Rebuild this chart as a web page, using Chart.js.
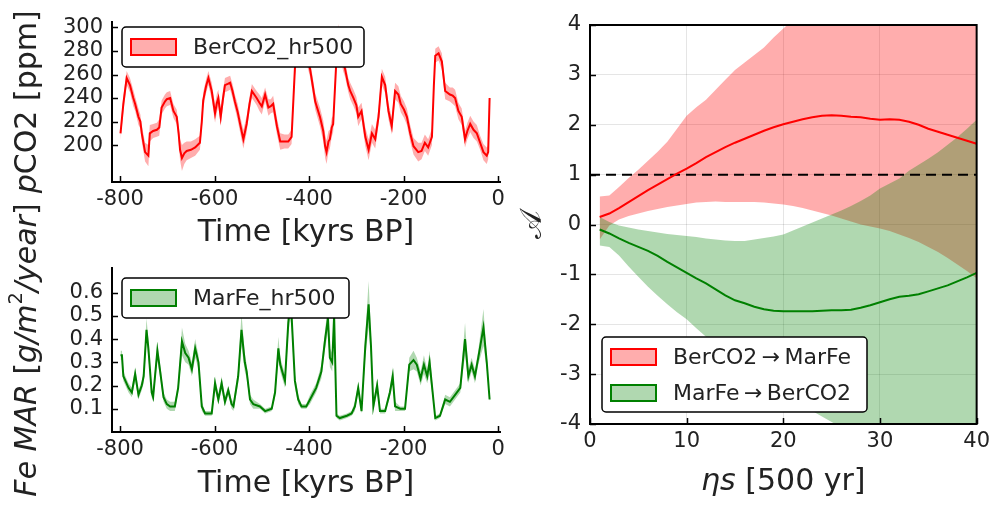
<!DOCTYPE html>
<html>
<head>
<meta charset="utf-8">
<script src="https://cdn.jsdelivr.net/npm/chart.js@4.4.1/dist/chart.umd.min.js"></script>
<style>
  html, body { margin: 0; padding: 0; background: #fff; }
  #wrap { position: relative; width: 995px; height: 506px; overflow: hidden; }
  canvas { position: absolute; }
  #c1 { left: 0; top: 0; }
  #c2 { left: 0; top: 170px; }
  #c3 { left: 510px; top: 0; }
</style>
</head>
<body>
<div id="wrap">
  <canvas id="c1" width="510" height="250"></canvas>
  <canvas id="c2" width="510" height="336"></canvas>
  <canvas id="c3" width="485" height="506"></canvas>
</div>
<script>
// ---- data ----
const TIME_TICKS = [-800, -600, -400, -200, 0];
const CO2_TICKS = [200, 220, 240, 260, 280, 300];
const FE_TICKS = [0.1, 0.2, 0.3, 0.4, 0.5, 0.6];
const ETA_TICKS = [0, 10, 20, 30, 40];
const A_TICKS = [-4, -3, -2, -1, 0, 1, 2, 3, 4];

// BerCO2_hr500 (kyrs BP, ppm, band half width)
const CO2_T = [
  -799, -793, -786, -779, -772, -768, -761, -757, -754, -747,
  -740, -737, -730, -722, -717, -712, -705, -701, -694, -687,
  -680, -676, -673, -669, -664, -659, -650, -641, -631, -627,
  -624, -618, -613, -606, -599, -595, -592, -587, -582, -578,
  -572, -567, -562, -557, -551, -546, -539, -532, -526, -521,
  -516, -511, -505, -500, -493, -486, -481, -476, -468, -461,
  -452, -444, -437, -433, -430, -424, -418, -412, -405, -398,
  -392, -387, -377, -370, -366, -363, -359, -356, -352, -349,
  -345, -342, -338, -333, -328, -324, -317, -313, -306, -300,
  -296, -289, -281, -274, -267, -260, -253, -246, -239, -232,
  -225, -218, -211, -206, -199, -193, -186, -179, -169, -162,
  -155, -148, -140, -136, -133, -126, -119, -112, -102, -96,
  -91, -84, -77, -70, -65, -59, -52, -45, -38, -31,
  -24, -21, -18
];
const CO2_V = [
  210, 235, 257, 251, 240, 235, 224, 220, 210, 194,
  191, 210, 212, 213, 215, 232, 237, 239, 240, 229,
  224, 210, 196, 189, 193, 195, 196, 198, 202, 220,
  238, 250, 257, 246, 227, 236, 240, 224, 240, 251,
  252, 253, 246, 237, 228, 218, 205, 218, 235, 246,
  243, 240, 236, 233, 243, 232, 233, 235, 216, 203,
  203, 203, 207, 240, 265, 282, 287, 283, 275, 265,
  250, 237, 224, 212, 199, 194, 203, 205, 215, 218,
  250, 274, 298, 280, 270, 265, 251, 246, 240, 234,
  224, 229, 207, 196, 210, 205, 224, 258, 251, 229,
  216, 246, 243, 235, 230, 224, 210, 199, 194, 195,
  202, 198, 207, 250, 276, 278, 271, 246, 243, 242,
  240, 229, 224, 205, 212, 218, 213, 210, 202, 194,
  191, 194, 240
];
const CO2_ERR = [
  6, 7, 6, 6, 7, 6, 7, 6, 7, 8,
  9, 7, 6, 6, 7, 6, 6, 6, 6, 6,
  6, 7, 9, 11, 9, 8, 7, 7, 6, 7,
  7, 6, 6, 7, 8, 8, 7, 8, 7, 6,
  6, 6, 6, 6, 7, 7, 8, 7, 6, 6,
  6, 6, 7, 7, 6, 7, 6, 7, 7, 7,
  6, 6, 6, 7, 7, 6, 6, 6, 6, 7,
  7, 7, 8, 9, 10, 10, 9, 8, 8, 7,
  7, 8, 5, 7, 7, 7, 6, 7, 7, 7,
  8, 7, 8, 9, 8, 8, 7, 7, 7, 7,
  7, 7, 7, 7, 7, 7, 7, 7, 8, 7,
  7, 7, 7, 7, 6, 6, 7, 7, 6, 7,
  7, 7, 7, 7, 7, 7, 7, 7, 6, 7,
  7, 6, 3
];

// MarFe_hr500 (kyrs BP, g/m^2/year, band half width)
const FE_T = [
  -799, -796, -793, -782, -775, -768, -761, -754, -750, -744,
  -740, -733, -730, -721, -715, -708, -701, -694, -684, -677,
  -669, -662, -655, -648, -641, -634, -627, -620, -606, -599,
  -592, -585, -578, -571, -564, -560, -550, -543, -536, -532,
  -525, -518, -504, -493, -479, -472, -465, -461, -451, -444,
  -440, -437, -430, -423, -416, -406, -398, -385, -374, -366,
  -360, -356, -351, -347, -342, -335, -320, -310, -303, -296,
  -289, -281, -274, -269, -264, -256, -250, -239, -229, -223,
  -218, -207, -197, -188, -179, -172, -164, -157, -150, -145,
  -140, -133, -123, -112, -102, -91, -80, -70, -63, -56,
  -49, -42, -31, -24, -18
];
const FE_V = [
  0.33, 0.33, 0.24, 0.19, 0.17, 0.25, 0.16, 0.20, 0.24, 0.44,
  0.36, 0.17, 0.15, 0.35, 0.26, 0.15, 0.12, 0.11, 0.11, 0.19,
  0.39, 0.34, 0.32, 0.27, 0.36, 0.30, 0.11, 0.08, 0.08, 0.21,
  0.14, 0.21, 0.13, 0.18, 0.12, 0.11, 0.24, 0.44, 0.30, 0.26,
  0.14, 0.12, 0.11, 0.09, 0.10, 0.17, 0.36, 0.29, 0.22, 0.47,
  0.55, 0.50, 0.22, 0.14, 0.11, 0.11, 0.14, 0.19, 0.26, 0.40,
  0.49, 0.32, 0.30, 0.50, 0.07, 0.06, 0.07, 0.08, 0.11, 0.19,
  0.09, 0.37, 0.55, 0.37, 0.11, 0.20, 0.09, 0.09, 0.17, 0.24,
  0.11, 0.10, 0.10, 0.29, 0.31, 0.29, 0.23, 0.29, 0.24, 0.30,
  0.20, 0.06, 0.07, 0.14, 0.13, 0.16, 0.19, 0.40, 0.24, 0.29,
  0.24, 0.32, 0.45, 0.30, 0.14
];
const FE_ERR = [
  0.02, 0.02, 0.02, 0.02, 0.02, 0.03, 0.02, 0.02, 0.03, 0.05,
  0.04, 0.02, 0.02, 0.04, 0.03, 0.02, 0.02, 0.02, 0.02, 0.02,
  0.06, 0.04, 0.03, 0.03, 0.04, 0.03, 0.02, 0.01, 0.01, 0.03,
  0.02, 0.03, 0.02, 0.02, 0.02, 0.02, 0.03, 0.07, 0.04, 0.03,
  0.02, 0.02, 0.01, 0.01, 0.01, 0.02, 0.05, 0.03, 0.03, 0.05,
  0.06, 0.05, 0.03, 0.02, 0.01, 0.01, 0.02, 0.02, 0.03, 0.04,
  0.06, 0.04, 0.04, 0.06, 0.01, 0.01, 0.01, 0.01, 0.02, 0.02,
  0.01, 0.05, 0.10, 0.05, 0.02, 0.03, 0.01, 0.01, 0.02, 0.04,
  0.02, 0.01, 0.01, 0.03, 0.04, 0.03, 0.03, 0.04, 0.03, 0.05,
  0.03, 0.01, 0.01, 0.02, 0.02, 0.02, 0.02, 0.07, 0.03, 0.03,
  0.03, 0.03, 0.08, 0.03, 0.01
];

// cross-mapping skill vs eta*s
const ETA = [
  1, 2, 3, 4, 5, 6, 7, 8, 9, 10,
  11, 12, 13, 14, 15, 16, 17, 18, 19, 20,
  21, 22, 23, 24, 25, 26, 27, 28, 29, 30,
  31, 32, 33, 34, 35, 36, 37, 38, 39, 40
];
const CO2_TO_FE = [
  0.15, 0.22, 0.33, 0.45, 0.57, 0.69, 0.80, 0.91, 1.02, 1.12,
  1.23, 1.35, 1.45, 1.55, 1.64, 1.72, 1.80, 1.88, 1.95, 2.01,
  2.06, 2.11, 2.15, 2.18, 2.19, 2.18, 2.16, 2.15, 2.12, 2.10,
  2.11, 2.10, 2.06, 2.00, 1.92, 1.86, 1.80, 1.74, 1.68, 1.62
];
const CO2_TO_FE_HI = [
  0.56, 0.58, 0.75, 0.93, 1.10, 1.28, 1.46, 1.66, 1.92, 2.18,
  2.35, 2.50, 2.70, 2.90, 3.10, 3.25, 3.40, 3.55, 3.75, 3.93,
  4.10, 4.25, 4.40, 4.55, 4.70, 4.80, 4.90, 5.00, 5.10, 5.20,
  5.30, 5.40, 5.50, 5.60, 5.70, 5.80, 5.90, 6.00, 6.10, 6.20
];
const CO2_TO_FE_LO = [
  -0.30, -0.02, 0.10, 0.17, 0.22, 0.27, 0.31, 0.35, 0.38, 0.41,
  0.44, 0.45, 0.46, 0.45, 0.45, 0.45, 0.45, 0.44, 0.42, 0.40,
  0.37, 0.33, 0.28, 0.23, 0.18, 0.12, 0.06, 0.00, -0.04, -0.08,
  -0.13, -0.20, -0.27, -0.35, -0.45, -0.55, -0.67, -0.80, -0.93, -1.08
];
const FE_TO_CO2 = [
  -0.10, -0.18, -0.28, -0.37, -0.45, -0.53, -0.63, -0.75, -0.86, -0.97,
  -1.08, -1.18, -1.30, -1.42, -1.52, -1.58, -1.65, -1.70, -1.73, -1.74,
  -1.74, -1.74, -1.74, -1.73, -1.72, -1.72, -1.71, -1.67, -1.62, -1.56,
  -1.50, -1.45, -1.43, -1.40, -1.34, -1.28, -1.22, -1.14, -1.06, -0.97
];
const FE_TO_CO2_HI = [
  0.15, 0.05, -0.02, -0.06, -0.10, -0.13, -0.16, -0.19, -0.21, -0.23,
  -0.25, -0.28, -0.30, -0.32, -0.33, -0.33, -0.30, -0.27, -0.24, -0.20,
  -0.12, -0.04, 0.04, 0.12, 0.20, 0.28, 0.37, 0.47, 0.58, 0.72,
  0.82, 0.92, 1.08, 1.20, 1.32, 1.45, 1.60, 1.75, 1.92, 2.10
];
const FE_TO_CO2_LO = [
  -0.42, -0.45, -0.62, -0.84, -1.05, -1.25, -1.43, -1.60, -1.76, -1.90,
  -2.08, -2.25, -2.42, -2.58, -2.73, -2.88, -3.02, -3.15, -3.28, -3.40,
  -3.52, -3.63, -3.74, -3.85, -3.96, -4.07, -4.17, -4.27, -4.37, -4.47,
  -4.57, -4.67, -4.77, -4.87, -4.97, -5.07, -5.17, -5.27, -5.37, -5.47
];
const REF_X = [0, 40];
const REF_Y = [1, 1];

// ---- styling ----
const FONT = "'DejaVu Sans', sans-serif";
const TXT = '#222';
const RED = 'rgb(255,0,0)';
const RED_BAND = 'rgba(255,0,0,0.32)';
const GREEN = 'rgb(0,128,0)';
const GREEN_BAND = 'rgba(0,128,0,0.31)';
const TICK_SIZE = 21;
const TITLE_SIZE = 30;
const LEGEND_SIZE = 22;

function pts(xs, ys) {
  return xs.map((x, i) => ({ x: x, y: ys[i] }));
}

// label made of upright / italic / superscript pieces
function richText(ctx, parts, size, x, y, vertical) {
  ctx.save();
  ctx.translate(x, y);
  if (vertical) ctx.rotate(-Math.PI / 2);
  ctx.textBaseline = 'middle';
  ctx.textAlign = 'left';
  ctx.fillStyle = TXT;
  const fontOf = p => (p.i ? 'italic ' : '') + (p.sup ? size * 0.65 : size) + 'px ' + FONT;
  let total = 0;
  parts.forEach(p => { ctx.font = fontOf(p); p.w = ctx.measureText(p.t).width; total += p.w; });
  let cx = -total / 2;
  parts.forEach(p => {
    ctx.font = fontOf(p);
    ctx.fillText(p.t, cx, p.sup ? -size * 0.38 : 0);
    cx += p.w;
  });
  ctx.restore();
}

const decor = {
  id: 'decor',
  beforeDraw(chart, args, o) {
    if (o.white) {
      const ctx = chart.ctx;
      ctx.save();
      ctx.fillStyle = '#fff';
      ctx.fillRect(0, 0, chart.width, chart.height);
      ctx.restore();
    }
  },
  afterDatasetsDraw(chart, args, o) {
    const ctx = chart.ctx, a = chart.chartArea;
    ctx.save();
    ctx.strokeStyle = '#000';
    if (o.frame) {
      ctx.lineWidth = 2;
      ctx.strokeRect(a.left, a.top, a.right - a.left, a.bottom - a.top);
    }
    // ticks point inwards
    ctx.lineWidth = 1.5;
    ctx.beginPath();
    const xs = chart.scales.x, ys = chart.scales.y;
    xs.ticks.forEach(t => {
      const p = Math.round(xs.getPixelForValue(t.value)) + 0.5;
      ctx.moveTo(p, a.bottom); ctx.lineTo(p, a.bottom - 6);
    });
    ys.ticks.forEach(t => {
      const p = Math.round(ys.getPixelForValue(t.value)) + 0.5;
      ctx.moveTo(a.left, p); ctx.lineTo(a.left + 6, p);
    });
    ctx.stroke();
    ctx.restore();
  },
  afterDraw(chart, args, o) {
    const ctx = chart.ctx, a = chart.chartArea;
    const midX = (a.left + a.right) / 2, midY = (a.top + a.bottom) / 2;
    richText(ctx, o.xTitle, TITLE_SIZE, midX, o.xTitleY, false);
    richText(ctx, o.yTitle, TITLE_SIZE, o.yTitleX, midY, true);

    const L = o.legend;
    ctx.save();
    ctx.fillStyle = '#fff';
    ctx.strokeStyle = '#000';
    ctx.lineWidth = 1.5;
    ctx.beginPath();
    ctx.roundRect(L.x, L.y, L.w, L.h, 4);
    ctx.fill();
    ctx.stroke();
    ctx.font = LEGEND_SIZE + 'px ' + FONT;
    ctx.textBaseline = 'middle';
    ctx.textAlign = 'left';
    L.items.forEach((it, k) => {
      const cy = L.y + L.first + k * L.row;
      ctx.fillStyle = it.fill;
      ctx.fillRect(L.x + 9, cy - 8, 45, 16);
      ctx.strokeStyle = it.line;
      ctx.lineWidth = 2;
      ctx.strokeRect(L.x + 9, cy - 8, 45, 16);
      ctx.fillStyle = TXT;
      ctx.fillText(it.label, L.x + 71, cy + 1);
    });
    ctx.restore();
  }
};

function scale(min, max, ticks, axis, size, extra) {
  const s = {
    type: 'linear',
    min: min,
    max: max,
    afterBuildTicks: sc => { sc.ticks = ticks.map(v => ({ value: v })); },
    afterFit: sc => { if (axis === 'x') sc.height = size; else sc.width = size; },
    ticks: {
      font: { family: FONT, size: TICK_SIZE },
      color: TXT,
      padding: axis === 'x' ? 5 : 9,
      maxRotation: 0,
      autoSkip: false,
      callback: v => String(v)
    },
    grid: { display: false, drawTicks: false },
    border: { display: true, color: '#000', width: 2 }
  };
  return Object.assign(s, extra || {});
}

function timeChart(id, t, v, err, lineCol, bandCol, yMin, yMax, yTicks, padTop, xH, legend, yTitle, xTitleY) {
  const hi = t.map((x, i) => ({ x: x, y: v[i] + err[i] }));
  const lo = t.map((x, i) => ({ x: x, y: v[i] - err[i] }));
  return new Chart(document.getElementById(id), {
    type: 'line',
    data: {
      datasets: [
        { data: hi, fill: '+1', backgroundColor: bandCol, borderWidth: 0, pointRadius: 0, order: 3 },
        { data: lo, fill: false, borderWidth: 0, pointRadius: 0, order: 2 },
        { data: pts(t, v), fill: false, borderColor: lineCol, borderWidth: 2, pointRadius: 0, order: 1 }
      ]
    },
    options: {
      responsive: false,
      animation: false,
      layout: { padding: { left: 0, right: 10, top: padTop, bottom: 0 } },
      scales: {
        x: scale(-817, 4, TIME_TICKS, 'x', xH),
        y: scale(yMin, yMax, yTicks, 'y', 112)
      },
      plugins: {
        legend: { display: false },
        tooltip: { enabled: false },
        decor: {
          xTitle: [{ t: 'Time [kyrs BP]' }],
          xTitleY: xTitleY,
          yTitle: yTitle,
          yTitleX: 28,
          legend: legend
        }
      }
    },
    plugins: [decor]
  });
}

timeChart('c1', CO2_T, CO2_V, CO2_ERR, RED, RED_BAND, 168.6, 305, CO2_TICKS, 17, 68,
  { x: 122, y: 27, w: 242, h: 40, first: 20, row: 0,
    items: [{ label: 'BerCO2_hr500', fill: RED_BAND, line: RED }] },
  [{ t: 'p', i: true }, { t: 'CO2 [ppm]' }], 233);

timeChart('c2', FE_T, FE_V, FE_ERR, GREEN, GREEN_BAND, 0, 0.706, FE_TICKS, 98, 74,
  { x: 122, y: 108, w: 227, h: 40, first: 20, row: 0,
    items: [{ label: 'MarFe_hr500', fill: GREEN_BAND, line: GREEN }] },
  [{ t: 'Fe MAR ', i: true }, { t: '[' }, { t: 'g/m', i: true }, { t: '2', sup: true },
   { t: '/year', i: true }, { t: ']' }], 314);

new Chart(document.getElementById('c3'), {
  type: 'line',
  data: {
    datasets: [
      { data: pts(ETA, CO2_TO_FE_HI), fill: '+1', backgroundColor: RED_BAND, borderWidth: 0, pointRadius: 0, order: 6 },
      { data: pts(ETA, CO2_TO_FE_LO), fill: false, borderWidth: 0, pointRadius: 0, order: 5 },
      { data: pts(ETA, FE_TO_CO2_HI), fill: '+1', backgroundColor: GREEN_BAND, borderWidth: 0, pointRadius: 0, order: 4 },
      { data: pts(ETA, FE_TO_CO2_LO), fill: false, borderWidth: 0, pointRadius: 0, order: 3 },
      { data: pts(REF_X, REF_Y), fill: false, borderColor: '#000', borderWidth: 2, borderDash: [10, 6], pointRadius: 0, order: 2 },
      { data: pts(ETA, CO2_TO_FE), fill: false, borderColor: RED, borderWidth: 2, pointRadius: 0, order: 1 },
      { data: pts(ETA, FE_TO_CO2), fill: false, borderColor: GREEN, borderWidth: 2, pointRadius: 0, order: 0 }
    ]
  },
  options: {
    responsive: false,
    animation: false,
    layout: { padding: { left: 0, right: 15, top: 25, bottom: 0 } },
    scales: {
      x: scale(0, 40, ETA_TICKS, 'x', 82, {
        grid: { display: true, drawTicks: false, color: 'rgba(0,0,0,0.1)', lineWidth: 1 },
        border: { display: false }
      }),
      y: scale(-4, 4, A_TICKS, 'y', 80, {
        grid: { display: true, drawTicks: false, color: 'rgba(0,0,0,0.1)', lineWidth: 1 },
        border: { display: false }
      })
    },
    plugins: {
      legend: { display: false },
      tooltip: { enabled: false },
      decor: {
        white: true,
        frame: true,
        xTitle: [{ t: '\u03b7s', i: true }, { t: ' [500 yr]' }],
        xTitleY: 482,
        yTitle: [{ t: '\ud835\udc9c' }],
        yTitleX: 23,
        legend: { x: 92, y: 337, w: 265, h: 75, first: 20, row: 36,
          items: [
            { label: 'BerCO2\u2009\u2192\u2009MarFe', fill: RED_BAND, line: RED },
            { label: 'MarFe\u2009\u2192\u2009BerCO2', fill: GREEN_BAND, line: GREEN }
          ] }
      }
    }
  },
  plugins: [decor]
});
</script>
</body>
</html>
